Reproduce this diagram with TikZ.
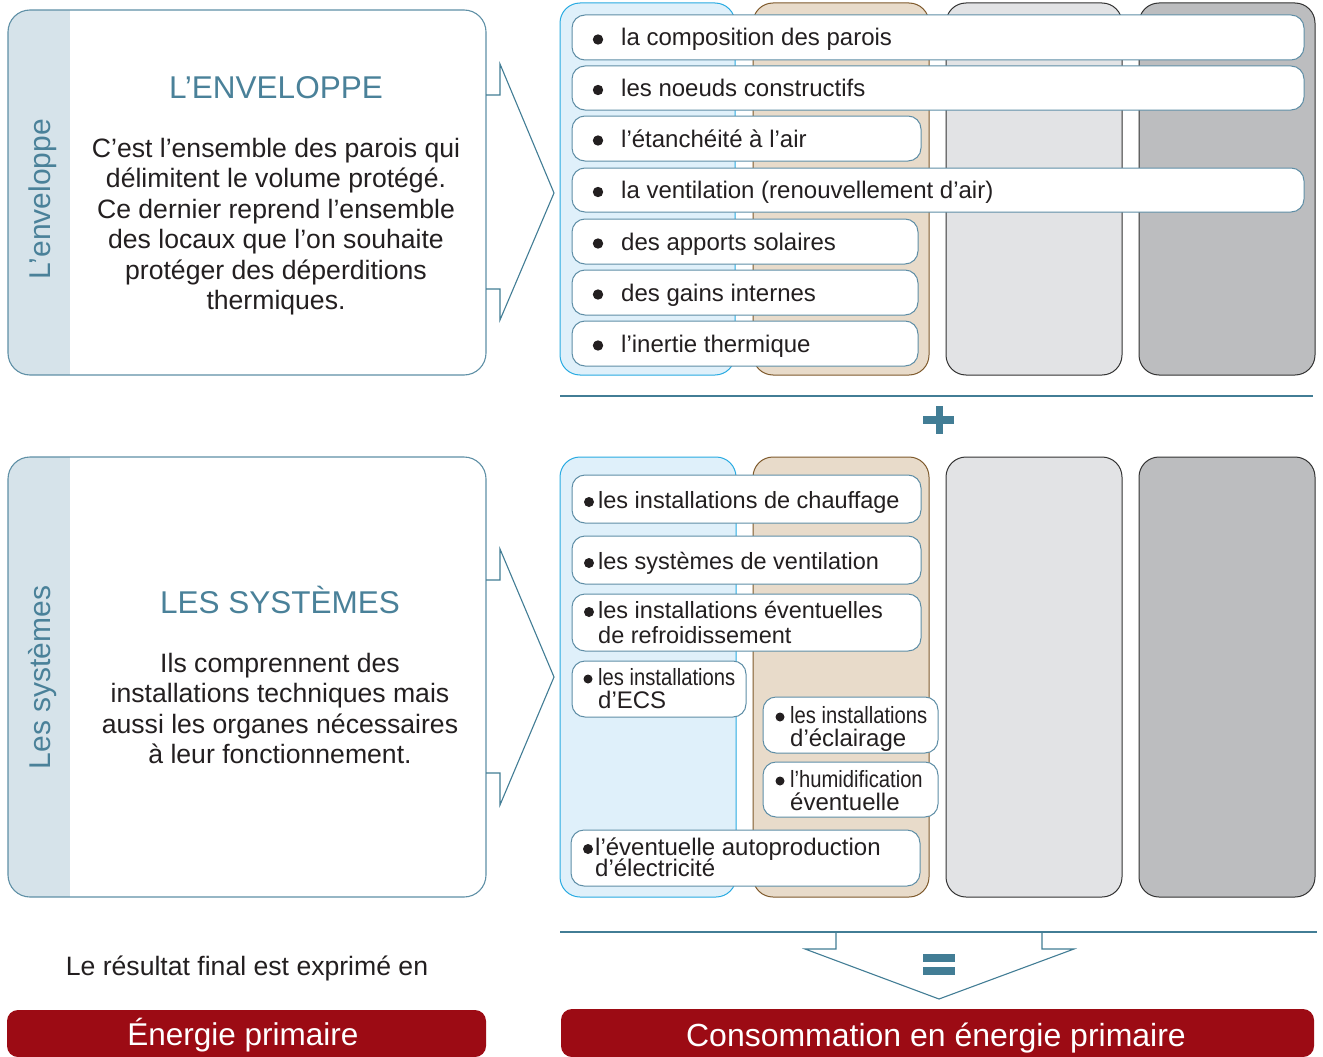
\documentclass[tikz,border=0pt]{standalone}
\usepackage{fontspec}
\setmainfont{Liberation Sans}
\newfontfamily\narrowfont[FakeStretch=0.86]{Liberation Sans}
\newcommand\myfs[2]{\fontsize{#1}{#2}\selectfont}
\definecolor{c1b}{HTML}{29ABE2}
\definecolor{c1f}{HTML}{DFF0FA}
\definecolor{c2b}{HTML}{7F5A2C}
\definecolor{c2f}{HTML}{E8DBCA}
\definecolor{c3b}{HTML}{333333}
\definecolor{c3f}{HTML}{E2E3E5}
\definecolor{c4f}{HTML}{BCBDBF}
\definecolor{itemb}{HTML}{5F8EA6}
\definecolor{bigb}{HTML}{5F90A6}
\definecolor{stripc}{HTML}{D6E3EA}
\definecolor{titlec}{HTML}{4A8199}
\definecolor{linec}{HTML}{427D95}
\definecolor{redc}{HTML}{9C0B14}
\definecolor{txt}{HTML}{231F20}
\begin{document}
\begin{tikzpicture}[x=1pt,y=-1pt,
  bigbox/.style={draw=bigb, line width=1.1pt, rounded corners=22pt},
  colbox/.style={line width=1pt, rounded corners=20pt},
  itembox/.style={draw=itemb, fill=white, line width=1pt, rounded corners=13pt},
  blockarrow/.style={draw=linec, line width=1.1pt, line join=miter},
  itxt/.style={anchor=base west, inner sep=0pt, text=txt, font=\myfs{24}{24}},
  ntxt/.style={anchor=base west, inner sep=0pt, text=txt, font=\narrowfont\myfs{23.5}{23.5}},
  bodytxt/.style={anchor=base, inner sep=0pt, text=txt, align=center, font=\myfs{26.6}{30.4}},
  titletxt/.style={anchor=base, inner sep=0pt, text=titlec, font=\myfs{31.5}{31.5}},
  sidetxt/.style={anchor=base, inner sep=0pt, text=titlec, rotate=90, font=\myfs{30}{30}},
  redtxt/.style={anchor=base, inner sep=0pt, text=white},
  bul/.style={fill=txt}
]
\clip (0,0) rectangle (1323,1057);
\fill[white] (0,0) rectangle (1323,1057);

% ---------- top-left box ----------
\fill[white, rounded corners=22pt] (8,10) rectangle (486,375);
\begin{scope}
  \clip[rounded corners=22pt] (8,10) rectangle (486,375);
  \fill[stripc] (8,10) rectangle (70,375);
\end{scope}
\draw[bigbox] (8,10) rectangle (486,375);
\draw[blockarrow] (486,95) -- (500,95) -- (500,64) -- (554,193) -- (500,320) -- (500,289) -- (486,289);
\node[sidetxt] (envside) at (50.5,199) {L’enveloppe};
\node[titletxt] (envtitle) at (276,99) {L’ENVELOPPE};
\node[bodytxt] (envbody) at (276,309.5) {C’est l’ensemble des parois qui\\délimitent le volume protégé.\\Ce dernier reprend l’ensemble\\des locaux que l’on souhaite\\protéger des déperditions\\thermiques.};

% ---------- top columns ----------
\draw[colbox, draw=c1b, fill=c1f] (560,3) rectangle (735,375);
\draw[colbox, draw=c2b, fill=c2f] (753,3) rectangle (929,375);
\draw[colbox, draw=c3b, fill=c3f] (946,3) rectangle (1122,375);
\draw[colbox, draw=c3b, fill=c4f] (1139,3) rectangle (1315,375);

\draw[itembox] (572,15) rectangle (1304,60);
\draw[itembox] (572,66) rectangle (1304,110);
\draw[itembox] (572,116) rectangle (921,161);
\draw[itembox] (572,168) rectangle (1304,212);
\draw[itembox] (572,219) rectangle (918,264);
\draw[itembox] (572,270) rectangle (918,315);
\draw[itembox] (572,321) rectangle (918,366);

\foreach \b in {46,96.5,147,198.5,250,301,352} \fill[bul] (598,\b-6.5) circle (5.2);
\node[itxt] (t1) at (621,46) {la composition des parois};
\node[itxt] (t2) at (621,96.5) {les noeuds constructifs};
\node[itxt] (t3) at (621,147) {l’étanchéité à l’air};
\node[itxt] (t4) at (621,198.5) {la ventilation (renouvellement d’air)};
\node[itxt] (t5) at (621,250) {des apports solaires};
\node[itxt] (t6) at (621,301) {des gains internes};
\node[itxt] (t7) at (621,352) {l’inertie thermique};

% ---------- plus ----------
\draw[linec, line width=2.2pt] (560,396) -- (1313,396);
\fill[linec] (923,416) rectangle (954,424);
\fill[linec] (935.5,406) rectangle (942.5,434);

% ---------- bottom-left box ----------
\fill[white, rounded corners=22pt] (8,457) rectangle (486,897);
\begin{scope}
  \clip[rounded corners=22pt] (8,457) rectangle (486,897);
  \fill[stripc] (8,457) rectangle (70,897);
\end{scope}
\draw[bigbox] (8,457) rectangle (486,897);
\draw[blockarrow] (486,580) -- (500,580) -- (500,549) -- (554,677) -- (500,805) -- (500,773) -- (486,773);
\node[sidetxt] (sysside) at (50.5,677.5) {Les systèmes};
\node[titletxt] (systitle) at (280,613) {LES SYSTÈMES};
\node[bodytxt] (sysbody) at (280,763.7) {Ils comprennent des\\installations techniques mais\\aussi les organes nécessaires\\à leur fonctionnement.};

% ---------- bottom columns ----------
\draw[colbox, draw=c1b, fill=c1f] (560,457) rectangle (736,897);
\draw[colbox, draw=c2b, fill=c2f] (753,457) rectangle (929,897);
\draw[colbox, draw=c3b, fill=c3f] (946,457) rectangle (1122,897);
\draw[colbox, draw=c3b, fill=c4f] (1139,457) rectangle (1315,897);

\draw[itembox] (572,475) rectangle (921,523);
\draw[itembox] (572,536) rectangle (921,584);
\draw[itembox] (572,594) rectangle (921,651);
\draw[itembox] (572,661) rectangle (746,717);
\draw[itembox] (763,697) rectangle (938,753);
\draw[itembox] (763,762) rectangle (938,817);
\draw[itembox] (571,830) rectangle (920,886);

\fill[bul] (589,502) circle (5);
\fill[bul] (589,563) circle (5);
\fill[bul] (589,612) circle (5);
\fill[bul] (588,679) circle (4.5);
\fill[bul] (780,717) circle (4.5);
\fill[bul] (780,781) circle (4.5);
\fill[bul] (588,849) circle (5);
\node[itxt, font=\myfs{23.5}{23.5}] (s1) at (598,508) {les installations de chauffage};
\node[itxt, font=\myfs{23.5}{23.5}] (s2) at (598,569) {les systèmes de ventilation};
\node[itxt, font=\myfs{23.5}{23.5}] (s3a) at (598,618) {les installations éventuelles};
\node[itxt, font=\myfs{23.5}{23.5}] (s3b) at (598,643) {de refroidissement};
\node[ntxt] (s4a) at (598,685) {les installations};
\node[itxt] (s4b) at (598,708.5) {d’ECS};
\node[ntxt] (s5a) at (790,723) {les installations};
\node[itxt] (s5b) at (790,746) {d’éclairage};
\node[ntxt] (s6a) at (790,787) {l’humidification};
\node[itxt] (s6b) at (790,810) {éventuelle};
\node[itxt] (s7a) at (595,855) {l’éventuelle autoproduction};
\node[itxt] (s7b) at (595,876.5) {d’électricité};

% ---------- equals / result ----------
\draw[linec, line width=2.2pt] (560,932) -- (1317,932);
\draw[blockarrow] (836,932) -- (836,949) -- (805,949) -- (939,999) -- (1074,949) -- (1042,949) -- (1042,932);
\fill[linec] (923,954) rectangle (955,962);
\fill[linec] (923,967) rectangle (955,975);

\node[anchor=base, inner sep=0pt, text=txt, font=\myfs{26.6}{26.6}] (res) at (247,975.5) {Le résultat final est exprimé en};

\fill[redc, rounded corners=11pt] (7,1010) rectangle (486,1057);
\fill[redc, rounded corners=11pt] (561,1009) rectangle (1314,1057);
\node[redtxt, font=\myfs{31.5}{31.5}] (ep) at (243,1045) {Énergie primaire};
\node[redtxt, font=\myfs{32}{32}] (cep) at (936,1046) {Consommation en énergie primaire};
\end{tikzpicture}
\end{document}
